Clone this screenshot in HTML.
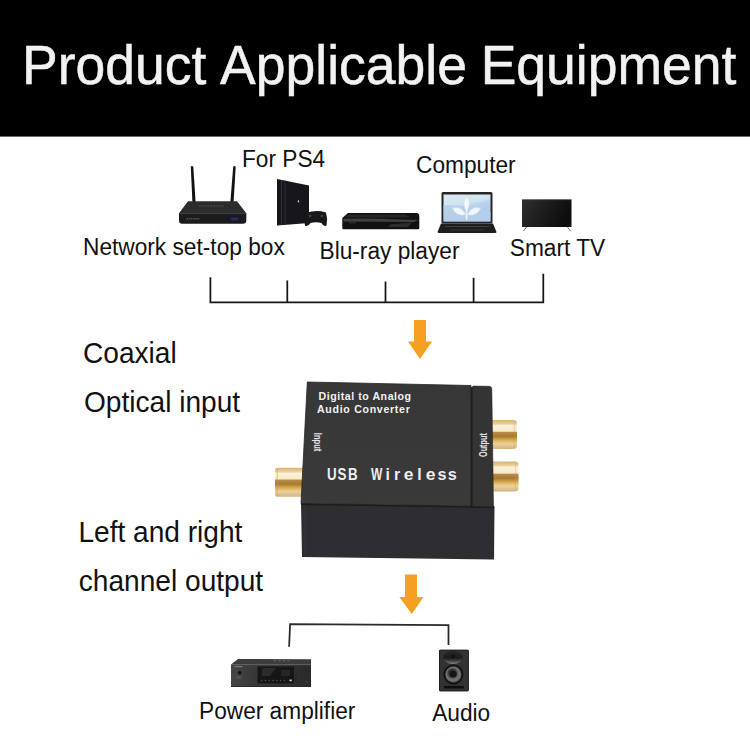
<!DOCTYPE html>
<html><head><meta charset="utf-8">
<style>
html,body{margin:0;padding:0;background:#fff;}
body{width:750px;height:750px;position:relative;overflow:hidden;font-family:"Liberation Sans",sans-serif;}
.t{position:absolute;white-space:nowrap;line-height:1;color:#111;transform-origin:0 0.8465em;}
.hdr{position:absolute;left:0;top:0;width:750px;height:137px;background:linear-gradient(#000 0,#000 136px,#6a6a6a 136px,#6a6a6a 137px);}
.ln{position:absolute;background:#2a2a2a;}
svg{position:absolute;left:0;top:0;}
</style></head><body>
<div class="hdr"></div>
<div class="t" id="h1" style="left:22px;top:39px;font-size:53.5px;transform:scaleY(1.03);color:#f2f2f2;-webkit-text-stroke:0.5px #f2f2f2;">Product <span style="position:relative;left:1.8px">Applicable</span> <span style="position:relative;left:0.6px">Equipment</span></div>

<div class="t" style="left:242.0px;top:148px;font-size:22.7px;transform:scaleY(1.06)">For PS4</div>
<div class="t" style="left:416.0px;top:154px;font-size:22.7px;transform:scaleY(1.06)">Computer</div>
<div class="t" style="left:83.0px;top:236px;font-size:22.7px;transform:scaleY(1.06)">Network set-top box</div>
<div class="t" style="left:319.5px;top:240px;font-size:22.7px;transform:scaleY(1.06)">Blu-ray player</div>
<div class="t" style="left:509.8px;top:237px;font-size:22.7px;transform:scaleY(1.06)">Smart TV</div>
<div class="t" style="left:83.0px;top:340px;font-size:28.1px;transform:scaleY(1.07)">Coaxial</div>
<div class="t" style="left:84.0px;top:389px;font-size:28.1px;transform:scaleY(1.07)">Optical input</div>
<div class="t" style="left:78.4px;top:519px;font-size:28.1px;transform:scaleY(1.07)">Left and right</div>
<div class="t" style="left:78.8px;top:568px;font-size:28.1px;transform:scaleY(1.07)">channel output</div>
<div class="t" style="left:199.0px;top:700px;font-size:22.7px;transform:scaleY(1.06)">Power amplifier</div>
<div class="t" style="left:432.2px;top:702px;font-size:22.7px;transform:scaleY(1.06)">Audio</div>

<svg width="750" height="750" viewBox="0 0 750 750">
  
  <defs>
    <linearGradient id="gold" x1="0" y1="0" x2="0" y2="1">
      <stop offset="0" stop-color="#d8b472"/>
      <stop offset="0.12" stop-color="#e8cc94"/>
      <stop offset="0.2" stop-color="#fbf2da"/>
      <stop offset="0.39" stop-color="#f7e9c4"/>
      <stop offset="0.42" stop-color="#b98b46"/>
      <stop offset="0.56" stop-color="#a67836"/>
      <stop offset="0.68" stop-color="#d6a846"/>
      <stop offset="0.76" stop-color="#e6c27a"/>
      <stop offset="0.82" stop-color="#e9d0a2"/>
      <stop offset="1" stop-color="#d6b27a"/>
    </linearGradient>
    <linearGradient id="face" x1="0" y1="0" x2="0" y2="1">
      <stop offset="0" stop-color="#373737"/>
      <stop offset="1" stop-color="#3a3a3a"/>
    </linearGradient>
  </defs>
  <!-- jacks -->
  <rect x="275" y="467.8" width="30" height="29" rx="2.5" fill="url(#gold)"/>
  <path d="M277.3 468.5 V496" stroke="#c59a55" stroke-width="0.9" opacity="0.6"/>
  <rect x="488" y="420" width="29" height="29" rx="3.5" fill="url(#gold)"/>
  <path d="M514.3 421 V448" stroke="#c9a060" stroke-width="0.8" opacity="0.5"/>
  <rect x="488" y="461.5" width="30.5" height="30" rx="3.5" fill="url(#gold)"/>
  <path d="M515.6 462.5 V491" stroke="#c9a060" stroke-width="0.8" opacity="0.5"/>
  <!-- box lower part -->
  <path d="M301 503 L494.5 506 L494 559.5 L302 557 Z" fill="#2d2d32"/>
  <path d="M305 507 L305 556" stroke="#3a3a3e" stroke-width="0.8"/>
  <!-- main top face -->
  <path d="M307.3 382 L471 385.5 L471 506 L301 503.5 Z" fill="url(#face)" stroke="#242424" stroke-width="0.8"/>
  <!-- right panel -->
  <path d="M471.2 387.8 L473.2 386.1 L489.3 386.3 Q491.7 386.5 491.8 389 L493.5 507.5 L471.2 507 Z" fill="#343434" stroke="#262626" stroke-width="0.6"/>
  <path d="M471.8 387.5 L471.8 507" stroke="#181818" stroke-width="1.2"/>
  <path d="M301 504.3 L494 507.3" stroke="#1c1c1c" stroke-width="1.2"/>
  <text x="318.5" y="400" font-family="Liberation Sans" font-weight="bold" font-size="10.6" fill="#f2f2f2" letter-spacing="0.55">Digital to Analog</text>
  <text x="317" y="413" font-family="Liberation Sans" font-weight="bold" font-size="10.6" fill="#f2f2f2" letter-spacing="0.7">Audio  Converter</text>
  <text transform="translate(327.00,479.7) scale(0.80,1)" font-family="Liberation Sans" font-weight="bold" font-size="16.7" fill="#eeeeee">U</text>
  <text transform="translate(337.62,479.7) scale(0.80,1)" font-family="Liberation Sans" font-weight="bold" font-size="16.7" fill="#eeeeee">S</text>
  <text transform="translate(348.11,479.7) scale(0.80,1)" font-family="Liberation Sans" font-weight="bold" font-size="16.7" fill="#eeeeee">B</text>
  <text transform="translate(370.99,479.7) scale(0.72,1)" font-family="Liberation Sans" font-weight="bold" font-size="16.7" fill="#eeeeee">W</text>
  <text transform="translate(385.49,479.7) scale(0.95,1)" font-family="Liberation Sans" font-weight="bold" font-size="16.7" fill="#eeeeee">i</text>
  <text transform="translate(393.95,479.7) scale(0.95,1)" font-family="Liberation Sans" font-weight="bold" font-size="16.7" fill="#eeeeee">r</text>
  <text transform="translate(403.72,479.7) scale(1.05,1)" font-family="Liberation Sans" font-weight="bold" font-size="16.7" fill="#eeeeee">e</text>
  <text transform="translate(417.29,479.7) scale(0.95,1)" font-family="Liberation Sans" font-weight="bold" font-size="16.7" fill="#eeeeee">l</text>
  <text transform="translate(425.72,479.7) scale(1.05,1)" font-family="Liberation Sans" font-weight="bold" font-size="16.7" fill="#eeeeee">e</text>
  <text transform="translate(437.53,479.7) scale(0.97,1)" font-family="Liberation Sans" font-weight="bold" font-size="16.7" fill="#eeeeee">s</text>
  <text transform="translate(447.73,479.7) scale(0.97,1)" font-family="Liberation Sans" font-weight="bold" font-size="16.7" fill="#eeeeee">s</text>
  <text transform="translate(314.4,432.8) rotate(90) scale(0.69,1)" font-family="Liberation Sans" font-weight="bold" font-size="11" fill="#e6e6e6">Input</text>
  <text transform="translate(487.3,457) rotate(-90) scale(0.7,1)" font-family="Liberation Sans" font-weight="bold" font-size="10.4" fill="#e6e6e6">Output</text>


  <!-- ROUTER -->
  <defs>
    <linearGradient id="rtop" x1="0" y1="0" x2="0" y2="1">
      <stop offset="0" stop-color="#2a2a2a"/><stop offset="1" stop-color="#3a3a3a"/>
    </linearGradient>
    <linearGradient id="scr" x1="0" y1="0" x2="0.4" y2="1">
      <stop offset="0" stop-color="#dcebf3"/><stop offset="0.45" stop-color="#cfe3f0"/><stop offset="0.55" stop-color="#b9d3ec"/><stop offset="1" stop-color="#a9c6e8"/>
    </linearGradient>
    <linearGradient id="tvg" x1="0" y1="0" x2="1" y2="0.3">
      <stop offset="0" stop-color="#303030"/><stop offset="0.5" stop-color="#1d1d1d"/><stop offset="1" stop-color="#0e0e0e"/>
    </linearGradient>
    <linearGradient id="ampg" x1="0" y1="0" x2="1" y2="0">
      <stop offset="0" stop-color="#454545"/><stop offset="0.3" stop-color="#383838"/><stop offset="1" stop-color="#2a2a2a"/>
    </linearGradient>
    <radialGradient id="cone" cx="0.5" cy="0.5" r="0.5" fx="0.35" fy="0.3">
      <stop offset="0" stop-color="#2a2a2a"/><stop offset="0.45" stop-color="#3a3a3a"/><stop offset="0.8" stop-color="#7a7a7a"/><stop offset="1" stop-color="#444"/>
    </radialGradient>
    <linearGradient id="wg" x1="0" y1="0" x2="0" y2="1">
      <stop offset="0" stop-color="#262626"/><stop offset="0.55" stop-color="#1c1c1c"/><stop offset="0.8" stop-color="#4a4a4a"/><stop offset="1" stop-color="#8a8a8a"/>
    </linearGradient>
  </defs>
  <path d="M190.8 166.8 Q192 165.2 193.3 166.8 L195.6 202 L192.4 202 Z" fill="#121212"/>
  <path d="M233.2 166.8 Q234.5 165.2 235.7 166.8 L233.6 202 L230.4 202 Z" fill="#121212"/>
  <path d="M188 201.3 L237 201.3 L246.3 213.3 L179 213.3 Z" fill="#2c2c2c"/>
  <path d="M199 206 H224" stroke="#525252" stroke-width="1" stroke-dasharray="2 0.8"/>
  <path d="M179 213.3 H246.3 V220.5 Q246.3 223.8 243 223.8 H182 Q179 223.8 179 220.5 Z" fill="#1c1c1c"/>
  <path d="M179 213.6 H246.3" stroke="#3a3a3a" stroke-width="0.8"/>
  <path d="M186.5 218.8 H200" stroke="#6a6a6a" stroke-width="1" stroke-dasharray="1.5 0.7"/>
  <rect x="227.5" y="216" width="15" height="6" fill="#17172a"/>
  <rect x="230.5" y="217.3" width="8" height="3.2" fill="#2a2850"/>

  <!-- PS4 -->
  <path d="M277 179 L309 185.5 L309 223 L277 225.5 Z" fill="#16161b"/>
  <path d="M281.5 180 L281.5 225" stroke="#33333b" stroke-width="0.9"/>
  <path d="M285 180.5 L285 224.5" stroke="#2a2a32" stroke-width="1"/>
  <path d="M297.5 201.5 l1.2 -2 l0.6 3.5 z" fill="#c8c8d0"/>
  <path d="M306 213 Q316 209.5 326 212.5 Q328 219 326.5 225.5 Q324 227.5 321.5 223 Q316 221.5 310.5 223 Q307.5 227.5 305 225.5 Q303.5 219 306 213 Z" fill="#17171c"/>
  <circle cx="310" cy="216" r="1.3" fill="#44444c"/>
  <circle cx="322" cy="216" r="1.3" fill="#44444c"/>

  <!-- BLU-RAY -->
  <path d="M348 213 L416.5 213 Q419.3 213.3 419.3 216 V228 Q419.3 229.3 418 229.3 H343.5 Q342.3 229.3 342.3 228 V218 Z" fill="#111"/>
  <path d="M349 214.5 L405 214.5 L410 217.5 L345 217.5 Z" fill="#2a2a2a" opacity="0.8"/>
  <path d="M343.5 218.8 Q370 218 400 219.5 L418 220 L414 222 Q380 221.5 343.5 221.5 Z" fill="#4a4a4a" opacity="0.85"/>
  <path d="M390 224.5 L412 222.5 L408 227 L388 227 Z" fill="#2c2c2c"/>
  <path d="M349 222.8 H356" stroke="#444" stroke-width="0.7"/>

  <!-- LAPTOP -->
  <rect x="441.5" y="192" width="51" height="31.5" rx="1.5" fill="#262626"/>
  <rect x="443.5" y="194.5" width="47" height="27" fill="url(#scr)"/>
  <path d="M443.5 205 Q466 204 490.5 212 V221.5 H443.5 Z" fill="#b5cfea" opacity="0.8"/>
  <path d="M466.6 196.3 Q472 203.5 466.6 211.8 Q461.2 203.5 466.6 196.3 Z" fill="#f3f8fb" stroke="#c9dcea" stroke-width="0.5"/>
  <path d="M452.3 208.3 Q461 205 465.8 214.8 Q456.5 217 452.3 208.3 Z" fill="#f0f6fa" stroke="#c9dcea" stroke-width="0.5"/>
  <path d="M480.8 208.3 Q472 205 467.4 214.8 Q476.5 217 480.8 208.3 Z" fill="#f0f6fa" stroke="#c9dcea" stroke-width="0.5"/>
  <path d="M466.6 210 V219.5" stroke="#eef4f9" stroke-width="1.6"/>
  <path d="M441 223.5 H493 L496.5 232 Q496.5 233 495 233 H439 Q437.5 233 437.5 232 Z" fill="#1e1e1e"/>
  <path d="M445 226.5 H489" stroke="#3e3e3e" stroke-width="1.2"/>
  <path d="M450 230 H484" stroke="#333" stroke-width="1"/>

  <!-- TV -->
  <rect x="522" y="199.5" width="49.5" height="27.5" fill="url(#tvg)"/>
  <path d="M522 199.7 H571.5" stroke="#555" stroke-width="0.6"/>
  <path d="M526.5 227 L523.5 231" stroke="#777" stroke-width="1"/>
  <path d="M567.5 227 L570.5 231" stroke="#777" stroke-width="1"/>

  <!-- AMP -->
  <path d="M238 659 L311 659.3 L311 664.5 L231 664.5 Z" fill="#3c3c3c"/>
  <path d="M274 660.8 H292" stroke="#6a6a6a" stroke-width="1" stroke-dasharray="2 2.5"/>
  <rect x="231" y="664.5" width="80" height="22.3" fill="url(#ampg)"/>
  <path d="M231 664.8 H311" stroke="#555" stroke-width="0.7"/>
  <path d="M231 686.5 H311" stroke="#1a1a1a" stroke-width="0.8"/>
  <rect x="257.5" y="666.5" width="36.5" height="17" fill="#161616"/>
  <path d="M262 668 L276 668 L270 676 L262 676 Z" fill="#2c2c2c"/>
  <rect x="281" y="670" width="9" height="6" fill="#252525"/>
  <circle cx="239.6" cy="672.8" r="1.8" fill="#0e0e0e"/>
  <rect x="234.5" y="666" width="8" height="1.2" fill="#777"/>
  <rect x="236.5" y="676.5" width="5" height="2" fill="#555"/>
  <path d="M261 680.4 H287" stroke="#6a6a6a" stroke-width="0.9" stroke-dasharray="1.2 2.6"/>
  <rect x="289.5" y="679.6" width="2.2" height="1.6" fill="#ddd"/>
  <path d="M296 674 V682" stroke="#222" stroke-width="0.8"/>
  <rect x="305" y="681" width="3" height="1.5" fill="#3a3a50"/>

  <!-- SPEAKER -->
  <rect x="439" y="649.8" width="29.8" height="41.5" rx="1" fill="#323232"/>
  <rect x="439.5" y="650.3" width="28.8" height="40.5" rx="1" fill="none" stroke="#222" stroke-width="1"/>
  <ellipse cx="453" cy="657.5" rx="10" ry="6.5" fill="url(#wg)"/>
  <ellipse cx="453" cy="656.5" rx="2.2" ry="1.8" fill="#111"/>
  <circle cx="453.4" cy="674.5" r="10" fill="#121212"/>
  <circle cx="453.4" cy="674.5" r="8.2" fill="url(#cone)"/>
  <circle cx="453.2" cy="674" r="3.6" fill="#161616"/>
  <rect x="444" y="686" width="20" height="2.5" fill="#0e0e0e"/>


  <!-- brackets -->
  <path d="M210.4 277.2 V302.3 H543.3 V273.7 M287.3 280.4 V302.3 M385.5 281.5 V302.3 M473.6 277.8 V302.3" fill="none" stroke="#151515" stroke-width="1.75"/>
  <path d="M289.1 646.7 L290.1 624.2 L448.5 625.2 V645" fill="none" stroke="#2a2a2a" stroke-width="1.75"/>
  <!-- arrows -->
  <path d="M414 320 H426 V341.5 H432 L420 359 L408 341.5 H414 Z" fill="#f5a020"/>
  <path d="M405 574.5 H417 V597 H423.5 L411.8 614 L399.3 597 H405 Z" fill="#f5a020"/>
</svg>
</body></html>
